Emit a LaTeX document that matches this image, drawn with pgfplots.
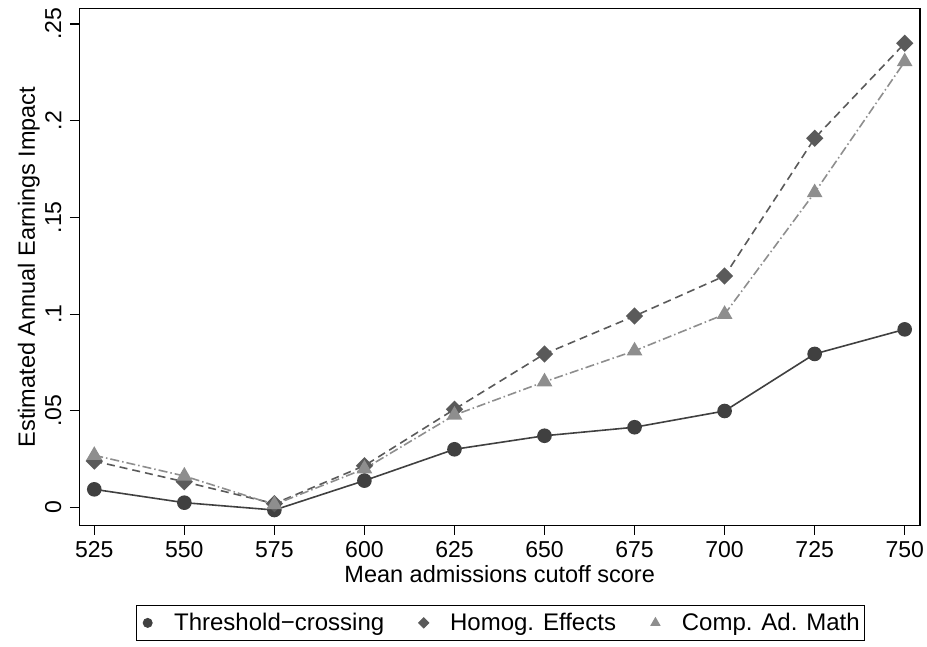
\documentclass[border=0pt]{standalone}
\usepackage{fontspec}
\setmainfont{Liberation Sans}
\usepackage{pgfplots}
\pgfplotsset{compat=1.18}

\definecolor{thrcol}{HTML}{404040}
\definecolor{homcol}{HTML}{5A5A5A}
\definecolor{compcol}{HTML}{8E8E8E}

\newcommand\tickfont{\fontsize{23}{27}\selectfont}
\newcommand\labfont{\fontsize{23.5}{28}\selectfont}
\newcommand\legfont{\fontsize{24}{28}\selectfont}

\begin{document}
\begin{tikzpicture}
\useasboundingbox (-79.3pt,-121.3pt) rectangle (847.7pt,525.7pt);
\begin{axis}[
  at={(0pt,0pt)}, anchor=south west,
  scale only axis, width=840.7pt, height=517.4pt,
  xmin=520.84, xmax=754.25, ymin=-0.0094, ymax=0.2581,
  xtick={525,550,...,750},
  ytick={0,0.05,0.1,0.15,0.2,0.25},
  yticklabels={0,.05,.1,.15,.2,.25},
  /pgf/number format/assume math mode=true,
  tick align=outside, xtick pos=bottom, ytick pos=left,
  major tick length=9.3pt,
  tick style={line width=1.1pt, color=black},
  axis line style={line width=1.3pt, black},
  tick label style={font=\tickfont},
  xticklabel style={anchor=north, inner sep=0pt, yshift=-6pt},
  yticklabel style={rotate=90, anchor=south, inner sep=0pt},
  yticklabel shift=8.5pt,
  xlabel={Mean admissions cutoff score},
  ylabel={Estimated Annual Earnings Impact},
  xlabel style={font=\labfont, at={(axis description cs:0.5,0)}, anchor=base, yshift=-56.8pt},
  ylabel style={font=\labfont, at={(axis description cs:-0.0527,0.5)}, anchor=base},
  legend columns=3,
  legend image code/.code={
    \path (-8pt,0pt) (8pt,0pt);
    \draw[#1] plot coordinates {(0pt,0pt)};},
  legend style={at={(axis description cs:0.501,0)}, anchor=north, yshift=-79.3pt,
    draw=black, line width=0.9pt, font=\legfont, inner xsep=2.7pt, inner ysep=6pt,
    nodes={inner sep=2pt},
    /tikz/every odd column/.append style={column sep=16pt},
    /tikz/every even column/.append style={column sep=29pt}},
  legend cell align=left,
]
% legend keys: markers only
\addlegendimage{only marks, mark=*, mark size=4.5pt, color=thrcol}
\addlegendimage{only marks, mark=square*, mark size=3.6pt, mark options={rotate=45}, color=homcol}
\addlegendimage{only marks, mark=triangle*, mark size=5.2pt, color=compcol}

% Threshold-crossing estimates
\addplot[forget plot, color=thrcol, line width=1.6pt, mark=*, mark size=6.5pt] coordinates {
  (525,0.0094) (550,0.0025) (575,-0.0013) (600,0.0139) (625,0.0301)
  (650,0.0371) (675,0.0415) (700,0.0499) (725,0.0794) (750,0.0921)};
% Homogeneous effects
\addplot[forget plot, color=homcol, line width=1.6pt, dash pattern=on 8pt off 5pt,
  mark=square*, mark size=5.3pt, mark options={solid, rotate=45}] coordinates {
  (525,0.0240) (550,0.0133) (575,0.0020) (600,0.0216) (625,0.0508)
  (650,0.0794) (675,0.0990) (700,0.1197) (725,0.1909) (750,0.2400)};
% Comparison: admissions math
\addplot[forget plot, color=compcol, line width=1.6pt, dash pattern=on 9pt off 3pt on 1.5pt off 3pt,
  mark=triangle*, mark size=7.5pt, mark options={solid}] coordinates {
  (525,0.0270) (550,0.0163) (575,0.0015) (600,0.0200) (625,0.0478)
  (650,0.0650) (675,0.0810) (700,0.0999) (725,0.1628) (750,0.2305)};

\legend{Threshold\textminus crossing, Homog. Effects, Comp. Ad. Math}
\end{axis}
\end{tikzpicture}
\end{document}
